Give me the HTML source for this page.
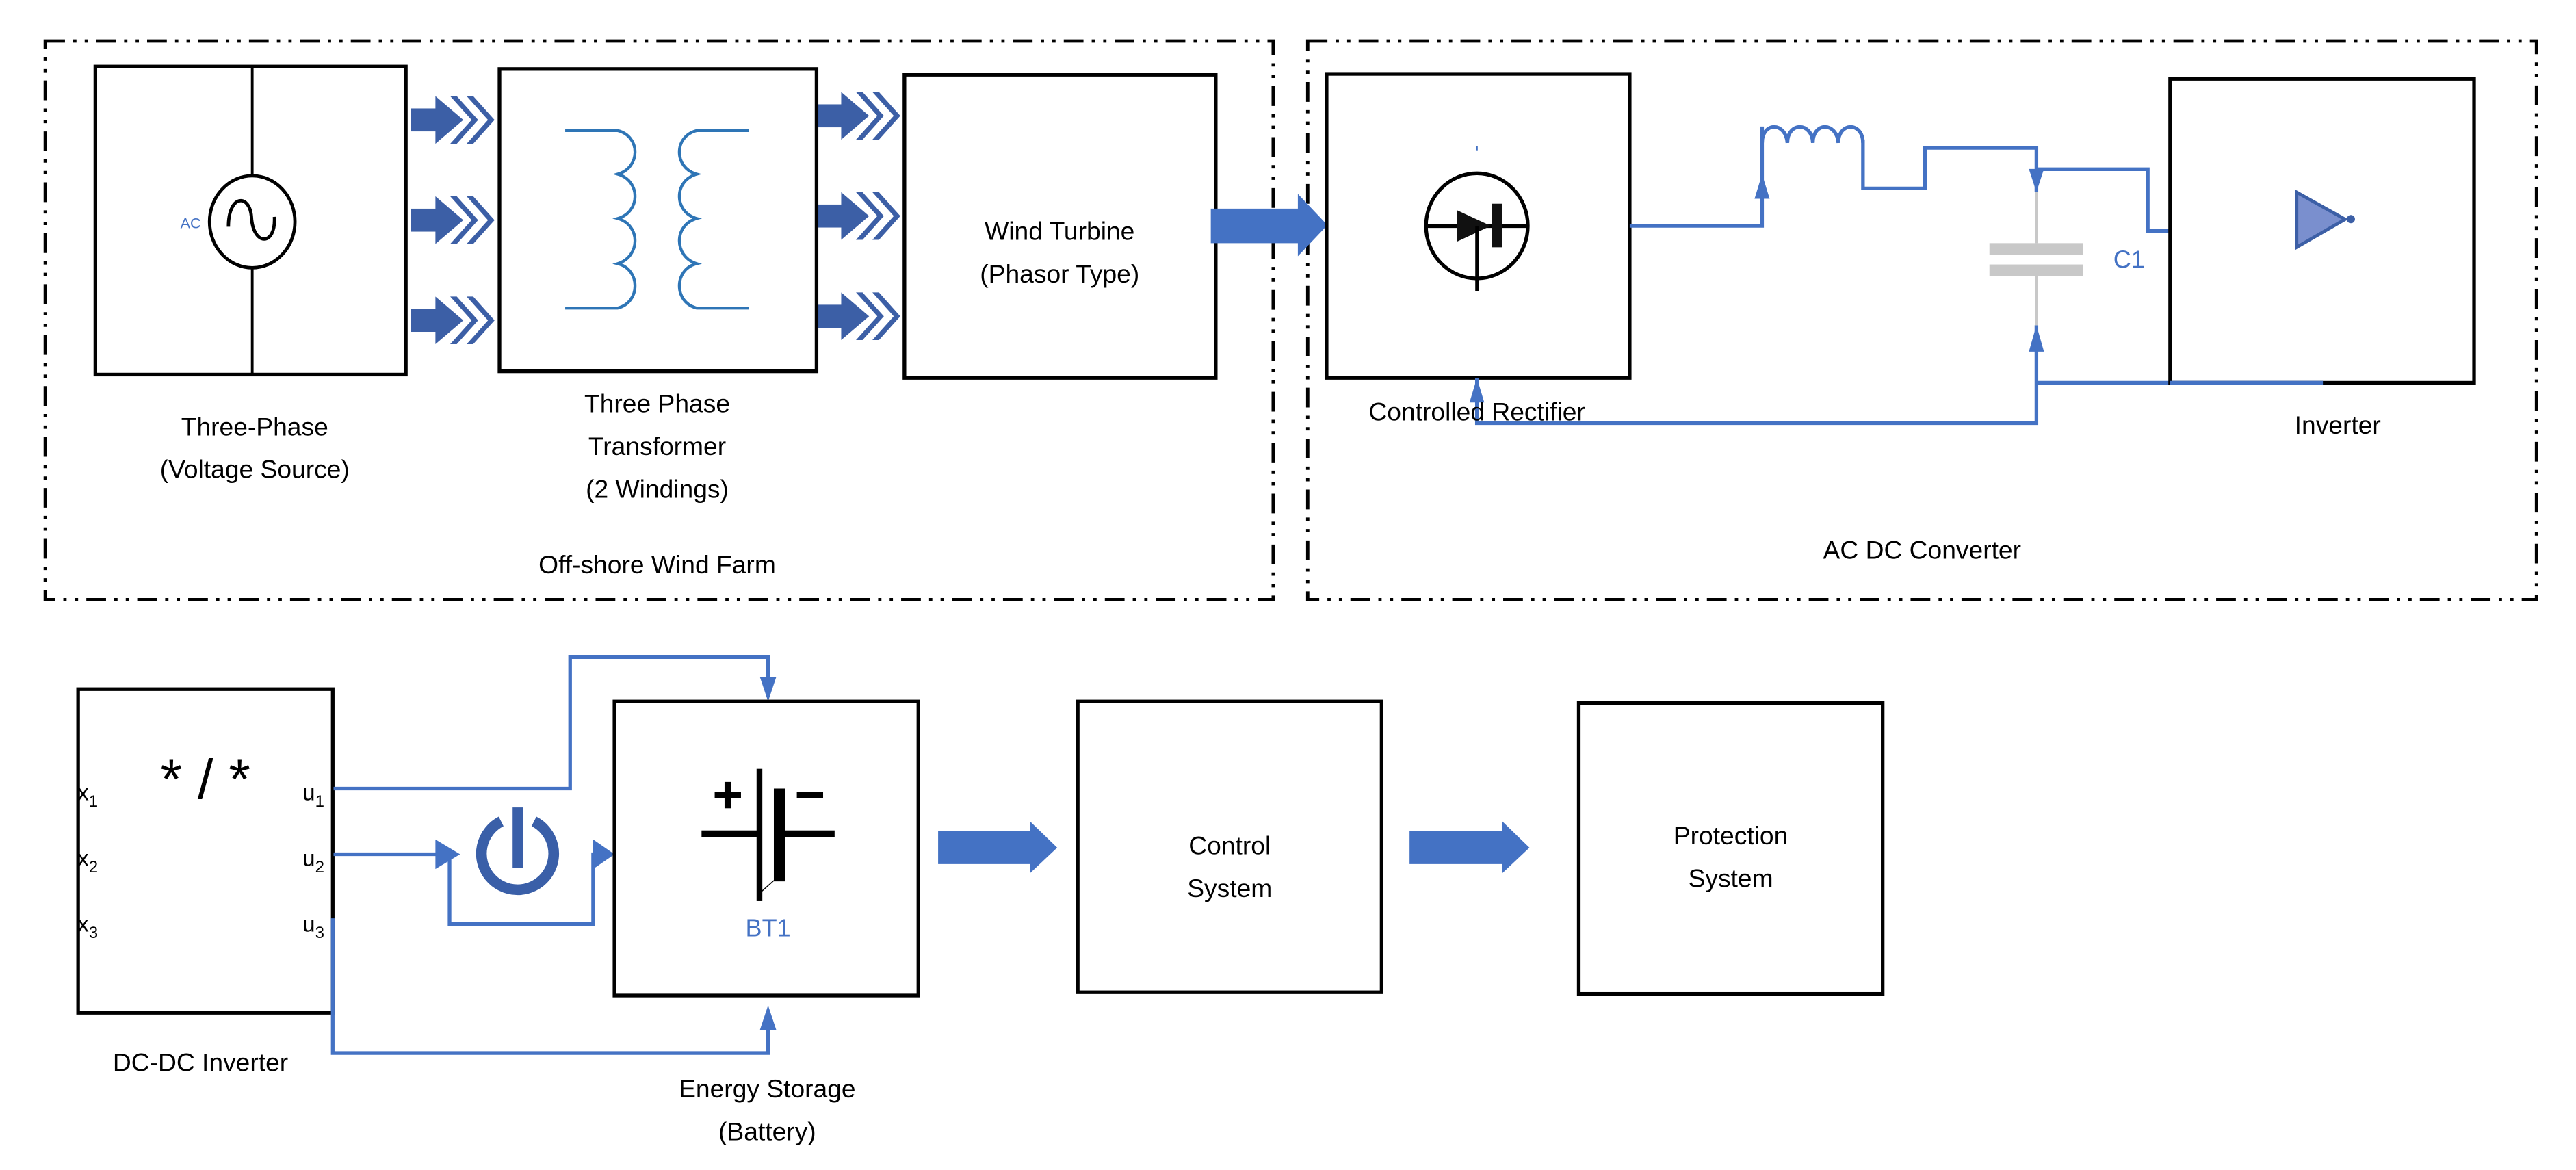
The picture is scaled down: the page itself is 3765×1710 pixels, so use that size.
<!DOCTYPE html>
<html><head><meta charset="utf-8"><style>
html,body{margin:0;padding:0;background:#fff;}
svg{display:block;}
text{font-family:"Liberation Sans",sans-serif;}
</style></head><body>
<svg width="3765" height="1710" viewBox="0 0 1568 712.2" xmlns="http://www.w3.org/2000/svg">
<defs>
<g id="chv" fill="#3c5fa6">
<rect x="250" y="-7" width="16" height="14"/>
<path d="M265,-14.5 L282,0 L265,14.5 Z"/>
<path d="M274,-14.5 L278,-14.5 L291,0 L278,14.5 L274,14.5 L287,0 Z"/>
<path d="M284,-14.5 L288,-14.5 L301,0 L288,14.5 L284,14.5 L297,0 Z"/>
</g>
</defs>
<rect width="1568" height="712.2" fill="#fff"/>
<g fill="none" stroke="#000" stroke-width="2" stroke-dasharray="12 5 2 5 2 5">
<rect x="27.5" y="25" width="747.5" height="340"/>
<rect x="796" y="25" width="748" height="340"/>
</g>
<rect x="58" y="40.5" width="189" height="187.5" fill="none" stroke="#000" stroke-width="2.2"/>
<line x1="153.5" y1="40.5" x2="153.5" y2="228" stroke="#000" stroke-width="1.6"/>
<ellipse cx="153.5" cy="135" rx="26" ry="28" fill="#fff" stroke="#000" stroke-width="2"/>
<path d="M139,138 C139,118 152,118 153,132 C154,150 168,150 167,132" fill="none" stroke="#000" stroke-width="2"/>
<text x="116" y="139" font-size="9" fill="#4472c4" text-anchor="middle">AC</text>
<use href="#chv" transform="translate(0,73)"/>
<use href="#chv" transform="translate(0,134)"/>
<use href="#chv" transform="translate(0,195)"/>
<use href="#chv" transform="translate(247,70.5)"/>
<use href="#chv" transform="translate(247,131.5)"/>
<use href="#chv" transform="translate(247,192.5)"/>
<rect x="304" y="42" width="193" height="184" fill="none" stroke="#000" stroke-width="2.2"/>
<g fill="none" stroke="#2e75b6" stroke-width="1.8">
<path d="M344,79.5 L376,79.5 C390,83 390,102 376,106 C390,110 390,129 376,133 C390,137 390,156 376,160.5 C390,164 390,184 376,187.5 L344,187.5"/>
<path d="M456,79.5 L424,79.5 C410,83 410,102 424,106 C410,110 410,129 424,133 C410,137 410,156 424,160.5 C410,164 410,184 424,187.5 L456,187.5"/>
</g>
<rect x="550.5" y="45.5" width="189.5" height="184.5" fill="none" stroke="#000" stroke-width="2.2"/>
<text x="645" y="146" font-size="15.5" text-anchor="middle">Wind Turbine</text>
<text x="645" y="172" font-size="15.5" text-anchor="middle">(Phasor Type)</text>
<path d="M737,127 L790,127 L790,118 L808,137 L790,156 L790,148 L737,148 Z" fill="#4472c4"/>
<text x="155" y="265" font-size="15.5" text-anchor="middle">Three-Phase</text>
<text x="155" y="291" font-size="15.5" text-anchor="middle">(Voltage Source)</text>
<text x="400" y="251" font-size="15.5" text-anchor="middle">Three Phase</text>
<text x="400" y="277" font-size="15.5" text-anchor="middle">Transformer</text>
<text x="400" y="303" font-size="15.5" text-anchor="middle">(2 Windings)</text>
<text x="400" y="349" font-size="15.5" text-anchor="middle">Off-shore Wind Farm</text>
<rect x="807.5" y="45" width="184.5" height="185" fill="none" stroke="#000" stroke-width="2.2"/>
<ellipse cx="899" cy="137.5" rx="31" ry="32" fill="none" stroke="#000" stroke-width="2.2"/>
<line x1="869" y1="137.5" x2="930" y2="137.5" stroke="#000" stroke-width="2.5"/>
<path d="M887,128 L907.5,137.5 L887,147 Z" fill="#111"/>
<rect x="908" y="124" width="6.5" height="26.5" fill="#111"/>
<line x1="899" y1="137.5" x2="899" y2="177" stroke="#000" stroke-width="2"/>
<line x1="899" y1="89" x2="899" y2="91.5" stroke="#4472c4" stroke-width="1"/>
<g fill="none" stroke="#4472c4" stroke-width="2.2">
<path d="M992,137.5 L1072.6,137.5 L1072.6,77"/>
<path d="M1072.6,87 C1072.6,74 1087,74 1088,87 C1088,74 1103,74 1103.5,87 C1103.5,74 1118,74 1119,87 C1119,74 1134,74 1134,87"/>
<path d="M1134,85 L1134,114.7 L1171.7,114.7 L1171.7,90 L1239.6,90 L1239.6,117"/>
<path d="M1239.6,103 L1307.4,103 L1307.4,140.5 L1321,140.5"/>
<path d="M1239.6,198 L1239.6,257.6 L899,257.6 L899,230"/>
<path d="M1239.6,233 L1414,233"/>
</g>
<g fill="#4472c4">
<path d="M1072.6,106 L1068,121 L1077.2,121 Z"/>
<path d="M1239.6,117 L1235,102.8 L1244.2,102.8 Z"/>
<path d="M1239.6,198 L1235,214 L1244.2,214 Z"/>
<path d="M899,230 L894.5,245 L903.5,245 Z"/>
</g>
<g stroke="#c8c8c8" stroke-width="2"><line x1="1239.6" y1="117" x2="1239.6" y2="148"/><line x1="1239.6" y1="168" x2="1239.6" y2="198"/></g>
<rect x="1211" y="148" width="57" height="7" fill="#c8c8c8"/>
<rect x="1211" y="161" width="57" height="7" fill="#c8c8c8"/>
<text x="1296" y="163" font-size="15" fill="#4472c4" text-anchor="middle">C1</text>
<rect x="1321" y="48" width="185" height="185" fill="none" stroke="#000" stroke-width="2.2"/>
<line x1="1321" y1="233" x2="1414" y2="233" stroke="#4472c4" stroke-width="2.2"/>
<path d="M1398,117 L1427.5,133.5 L1398,150.5 Z" fill="#7a8fce" stroke="#3c5fa6" stroke-width="2"/>
<circle cx="1431" cy="133.4" r="2.5" fill="#3c5fa6"/>
<text x="899" y="256" font-size="15.5" text-anchor="middle">Controlled Rectifier</text>
<text x="1423" y="264" font-size="15.5" text-anchor="middle">Inverter</text>
<text x="1170" y="340" font-size="15.5" text-anchor="middle">AC DC Converter</text>
<rect x="47.5" y="419.5" width="155" height="197" fill="none" stroke="#000" stroke-width="2.2"/>
<text x="125" y="486" font-size="34" text-anchor="middle">* / *</text>
<g font-size="14">
<text x="47" y="487">x<tspan font-size="10" dy="4">1</tspan></text>
<text x="47" y="527">x<tspan font-size="10" dy="4">2</tspan></text>
<text x="47" y="567">x<tspan font-size="10" dy="4">3</tspan></text>
<text x="184" y="487">u<tspan font-size="10" dy="4">1</tspan></text>
<text x="184" y="527">u<tspan font-size="10" dy="4">2</tspan></text>
<text x="184" y="567">u<tspan font-size="10" dy="4">3</tspan></text>
</g>
<text x="122" y="652" font-size="15.5" text-anchor="middle">DC-DC Inverter</text>
<g fill="none" stroke="#4472c4" stroke-width="2.2">
<path d="M203,480 L347,480 L347,400 L467.5,400 L467.5,412"/>
<path d="M203,520 L268,520"/>
<path d="M273.6,520 L273.6,562.5 L361,562.5 L361,520 L366,520"/>
<path d="M202.5,559 L202.5,641 L467.5,641 L467.5,626"/>
</g>
<g fill="#4472c4">
<path d="M467.5,427 L462.5,412 L472.5,412 Z"/>
<path d="M280,520 L265,511 L265,529 Z"/>
<path d="M374,520 L361,511 L361,529 Z"/>
<path d="M467.5,612 L462.5,627 L472.5,627 Z"/>
</g>
<path d="M305,500 A22,22 0 1 0 325,500" fill="none" stroke="#3a5fa8" stroke-width="6.5"/>
<rect x="312" y="491.5" width="6.5" height="37" fill="#3a5fa8"/>
<rect x="374" y="427" width="185" height="179" fill="none" stroke="#000" stroke-width="2.2"/>
<rect x="427" y="505.5" width="34" height="4" fill="#000"/>
<rect x="476" y="505.5" width="32" height="4" fill="#000"/>
<rect x="460.5" y="468" width="3.5" height="80.5" fill="#000"/>
<rect x="471" y="480" width="7" height="56.5" fill="#000"/>
<rect x="435" y="482" width="16" height="4" fill="#000"/>
<rect x="441" y="476" width="4" height="16" fill="#000"/>
<rect x="485" y="482" width="16" height="4" fill="#000"/>
<line x1="462" y1="544" x2="471" y2="536" stroke="#000" stroke-width="0.6"/>
<text x="467.5" y="570" font-size="15" fill="#4472c4" text-anchor="middle">BT1</text>
<text x="467" y="668" font-size="15.5" text-anchor="middle">Energy Storage</text>
<text x="467" y="694" font-size="15.5" text-anchor="middle">(Battery)</text>
<path d="M571,505.7 L627,505.7 L627,500 L643.5,516 L627,531.5 L627,526 L571,526 Z" fill="#4472c4"/>
<path d="M858,505.7 L914.5,505.7 L914.5,500 L931,516 L914.5,531.5 L914.5,526 L858,526 Z" fill="#4472c4"/>
<rect x="656" y="427" width="185" height="177" fill="none" stroke="#000" stroke-width="2.2"/>
<text x="748.5" y="520" font-size="15.5" text-anchor="middle">Control</text>
<text x="748.5" y="546" font-size="15.5" text-anchor="middle">System</text>
<rect x="961" y="428" width="185" height="177" fill="none" stroke="#000" stroke-width="2.2"/>
<text x="1053.5" y="514" font-size="15.5" text-anchor="middle">Protection</text>
<text x="1053.5" y="540" font-size="15.5" text-anchor="middle">System</text>
</svg>
</body></html>
